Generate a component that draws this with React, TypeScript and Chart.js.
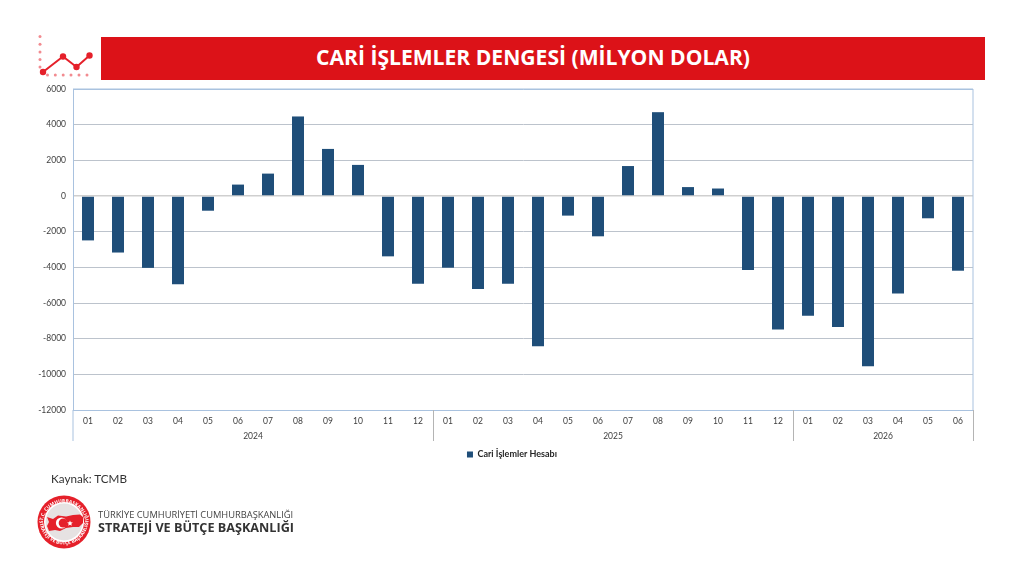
import React, { useEffect, useRef } from "react";
import { Chart, registerables } from "chart.js";

Chart.register(...registerables);

const months = [
  "01", "02", "03", "04", "05", "06", "07", "08", "09", "10", "11", "12",
  "01", "02", "03", "04", "05", "06", "07", "08", "09", "10", "11", "12",
  "01", "02", "03", "04", "05", "06",
];
const years = ["2024", "2025", "2026"];
const monthsPerYear = [12, 12, 6];
const currentAccount = [
  -2490, -3170, -4030, -4950, -825, 640, 1256, 4460, 2640, 1744, -3384, -4920,
  -4020, -5220, -4920, -8430, -1100, -2260, 1680, 4700, 500, 420, -4150, -7490,
  -6720, -7340, -9550, -5470, -1250, -4190,
];
const seriesName = "Cari İşlemler Hesabı";
const tickFont = "Lato, 'Open Sans', sans-serif";
const frameBlue = "#a9c2df";

// year brackets under the month labels, plus the top and right frame lines
const yearGroups = {
  id: "yearGroups",
  // the legend sits centred on the page, not on the plot
  afterLayout(chart: any) {
    chart.legend.left += 15.5;
    chart.legend.right += 15.5;
  },
  afterDraw(chart: any) {
    const { ctx, chartArea, scales } = chart;
    const x = scales.x;
    const step = x.getPixelForValue(1) - x.getPixelForValue(0);
    const bottom = chartArea.bottom + 31;
    ctx.save();
    ctx.strokeStyle = frameBlue;
    ctx.lineWidth = 1;
    ctx.beginPath();
    ctx.moveTo(chartArea.left, chartArea.top);
    ctx.lineTo(chartArea.right, chartArea.top);
    ctx.lineTo(chartArea.right, chartArea.bottom);
    ctx.stroke();

    ctx.strokeStyle = "#b4b4b4";
    ctx.fillStyle = "#404040";
    ctx.font = "8.5px " + tickFont;
    ctx.textAlign = "center";
    ctx.textBaseline = "middle";
    let start = 0;
    years.forEach((year, i) => {
      const end = start + monthsPerYear[i];
      const left = x.getPixelForValue(start) - step / 2;
      const right = x.getPixelForValue(end - 1) + step / 2;
      ctx.beginPath();
      ctx.moveTo(Math.round(right) + 0.5, chartArea.bottom);
      ctx.lineTo(Math.round(right) + 0.5, bottom);
      ctx.stroke();
      ctx.fillText(year, (left + right) / 2, chartArea.bottom + 26);
      start = end;
    });
    ctx.beginPath();
    ctx.strokeStyle = frameBlue;
    ctx.moveTo(chartArea.left, chartArea.bottom);
    ctx.lineTo(chartArea.left, bottom);
    ctx.stroke();
    ctx.restore();
  },
};

const Logo = () => (
  <svg width="56" height="56" viewBox="0 0 56 56" style={{ position: "absolute", left: 36, top: 494 }}>
    <defs>
      <path id="arcTop" d="M 6.5 30 A 21.5 21.5 0 0 1 49.5 30" />
      <path id="arcBottom" d="M 3.5 26 A 24.5 24.5 0 0 0 52.5 26" />
    </defs>
    <circle cx="28" cy="28" r="26.5" fill="#e5202a" />
    <circle cx="28" cy="28" r="20" fill="#fff" />
    <circle cx="28" cy="28" r="18.5" fill="#e6e2e2" />
    <text fontSize="4.8" fontWeight="700" fill="#fff" fontFamily="'Open Sans', sans-serif">
      <textPath href="#arcTop" startOffset="50%" textAnchor="middle">T.C. CUMHURBAŞKANLIĞI</textPath>
    </text>
    <text fontSize="4.8" fontWeight="700" fill="#fff" fontFamily="'Open Sans', sans-serif">
      <textPath href="#arcBottom" startOffset="50%" textAnchor="middle">STRATEJİ VE BÜTÇE BAŞKANLIĞI</textPath>
    </text>
    <path d="M 11 23 L 17 25 L 22 21.5 L 30 22.5 L 37 21 L 44 20.5 L 47 23 L 47 29 L 43 33 L 37 33 L 30 34 L 24 37 L 19 36 L 13 37 L 11 32 L 13 28 Z" fill="#e5202a" />
    <circle cx="25.5" cy="29" r="5.6" fill="#fff" />
    <circle cx="27.2" cy="29" r="4.5" fill="#e5202a" />
    <polygon points="34,26.4 34.8,28.3 36.9,28.5 35.3,29.8 35.8,31.8 34,30.7 32.2,31.8 32.7,29.8 31.1,28.5 33.2,28.3" fill="#fff" />
  </svg>
);

const TrendIcon = () => (
  <svg width="62" height="50" viewBox="0 0 62 50" style={{ position: "absolute", left: 36, top: 32 }}>
    {[4.5, 12.2, 20, 27.5, 35].map((cy) => (
      <circle key={cy} cx="4" cy={cy} r="1.5" fill="#f28b90" />
    ))}
    {[11.5, 19.3, 27.2, 35, 43, 51].map((cx) => (
      <circle key={cx} cx={cx} cy="43" r="1.5" fill="#f28b90" />
    ))}
    <polyline points="7,40 27,24.5 40.5,35 53.5,23.5" fill="none" stroke="#e5202a" strokeWidth="2" />
    <circle cx="7" cy="40" r="3.2" fill="#e5202a" />
    <circle cx="27" cy="24.5" r="3.2" fill="#e5202a" />
    <circle cx="40.5" cy="35" r="3.2" fill="#e5202a" />
    <circle cx="53.5" cy="23.5" r="3.2" fill="#e5202a" />
  </svg>
);

const App = () => {
  const chartRef = useRef<HTMLCanvasElement>(null);

  useEffect(() => {
    if (!chartRef.current) return;
    const chart = new Chart(chartRef.current, {
      type: "bar",
      data: {
        labels: months,
        datasets: [
          {
            label: seriesName,
            data: currentAccount,
            backgroundColor: "#1f4e79",
            barPercentage: 0.4,
            categoryPercentage: 1,
          },
        ],
      },
      options: {
        animation: false,
        responsive: false,
        layout: { padding: { left: 20, right: 51, top: 89, bottom: 107 } },
        plugins: {
          tooltip: { enabled: false },
          legend: {
            position: "bottom",
            labels: {
              boxWidth: 6,
              boxHeight: 6,
              padding: 9,
              color: "#262626",
              font: { family: tickFont, size: 9, weight: "bold" },
            },
          },
        },
        scales: {
          x: {
            afterFit: (axis: any) => {
              axis.height = 31;
            },
            grid: { display: false, drawTicks: false },
            border: { color: frameBlue },
            ticks: {
              color: "#404040",
              font: { family: tickFont, size: 8.5 },
              padding: 6,
              maxRotation: 0,
              autoSkip: false,
            },
          },
          y: {
            min: -12000,
            max: 6000,
            afterFit: (axis: any) => {
              axis.width = 53;
            },
            border: { color: frameBlue },
            grid: {
              drawTicks: false,
              color: (c: any) => {
                if (c.tick.value === 0) return "#cfcfcf";
                if (c.tick.value === -12000 || c.tick.value === 6000) return frameBlue;
                return "#bcc3cc";
              },
              lineWidth: (c: any) => (c.tick.value === 0 ? 1.5 : 1),
            },
            ticks: {
              stepSize: 2000,
              color: "#404040",
              font: { family: tickFont, size: 8.5 },
              padding: 7,
              callback: (v: any) => String(v),
            },
          },
        },
      },
      plugins: [yearGroups],
    });
    return () => {
      chart.destroy();
    };
  }, []);

  return (
    <div style={{ position: "absolute", left: 0, top: 0, width: 1024, height: 576, background: "#fff", overflow: "hidden" }}>
      <TrendIcon />
      <div
        style={{
          position: "absolute",
          left: 101,
          top: 36.5,
          width: 864,
          paddingRight: 20,
          height: 43.5,
          background: "#dc1218",
          color: "#fff",
          textAlign: "center",
          lineHeight: "40px",
          fontFamily: "'Open Sans', sans-serif",
          fontWeight: 700,
          fontSize: 21.1,
        }}
      >
        CARİ İŞLEMLER DENGESİ (MİLYON DOLAR)
      </div>
      <canvas ref={chartRef} width={1024} height={576} style={{ position: "absolute", left: 0, top: 0 }} />
      <div style={{ position: "absolute", left: 51, top: 469, fontFamily: "Lato, sans-serif", fontSize: 11.7, color: "#333", lineHeight: "18px" }}>
        Kaynak: TCMB
      </div>
      <Logo />
      <div style={{ position: "absolute", left: 98, top: 508, fontFamily: "'Open Sans', sans-serif", fontSize: 9.33, letterSpacing: -0.01, color: "#444", lineHeight: "14px", whiteSpace: "nowrap" }}>
        TÜRKİYE CUMHURİYETİ CUMHURBAŞKANLIĞI
      </div>
      <div style={{ position: "absolute", left: 98, top: 519, fontFamily: "'Open Sans', sans-serif", fontSize: 12.65, fontWeight: 700, color: "#333", lineHeight: "16px", whiteSpace: "nowrap" }}>
        STRATEJİ VE BÜTÇE BAŞKANLIĞI
      </div>
    </div>
  );
};

export default App;
